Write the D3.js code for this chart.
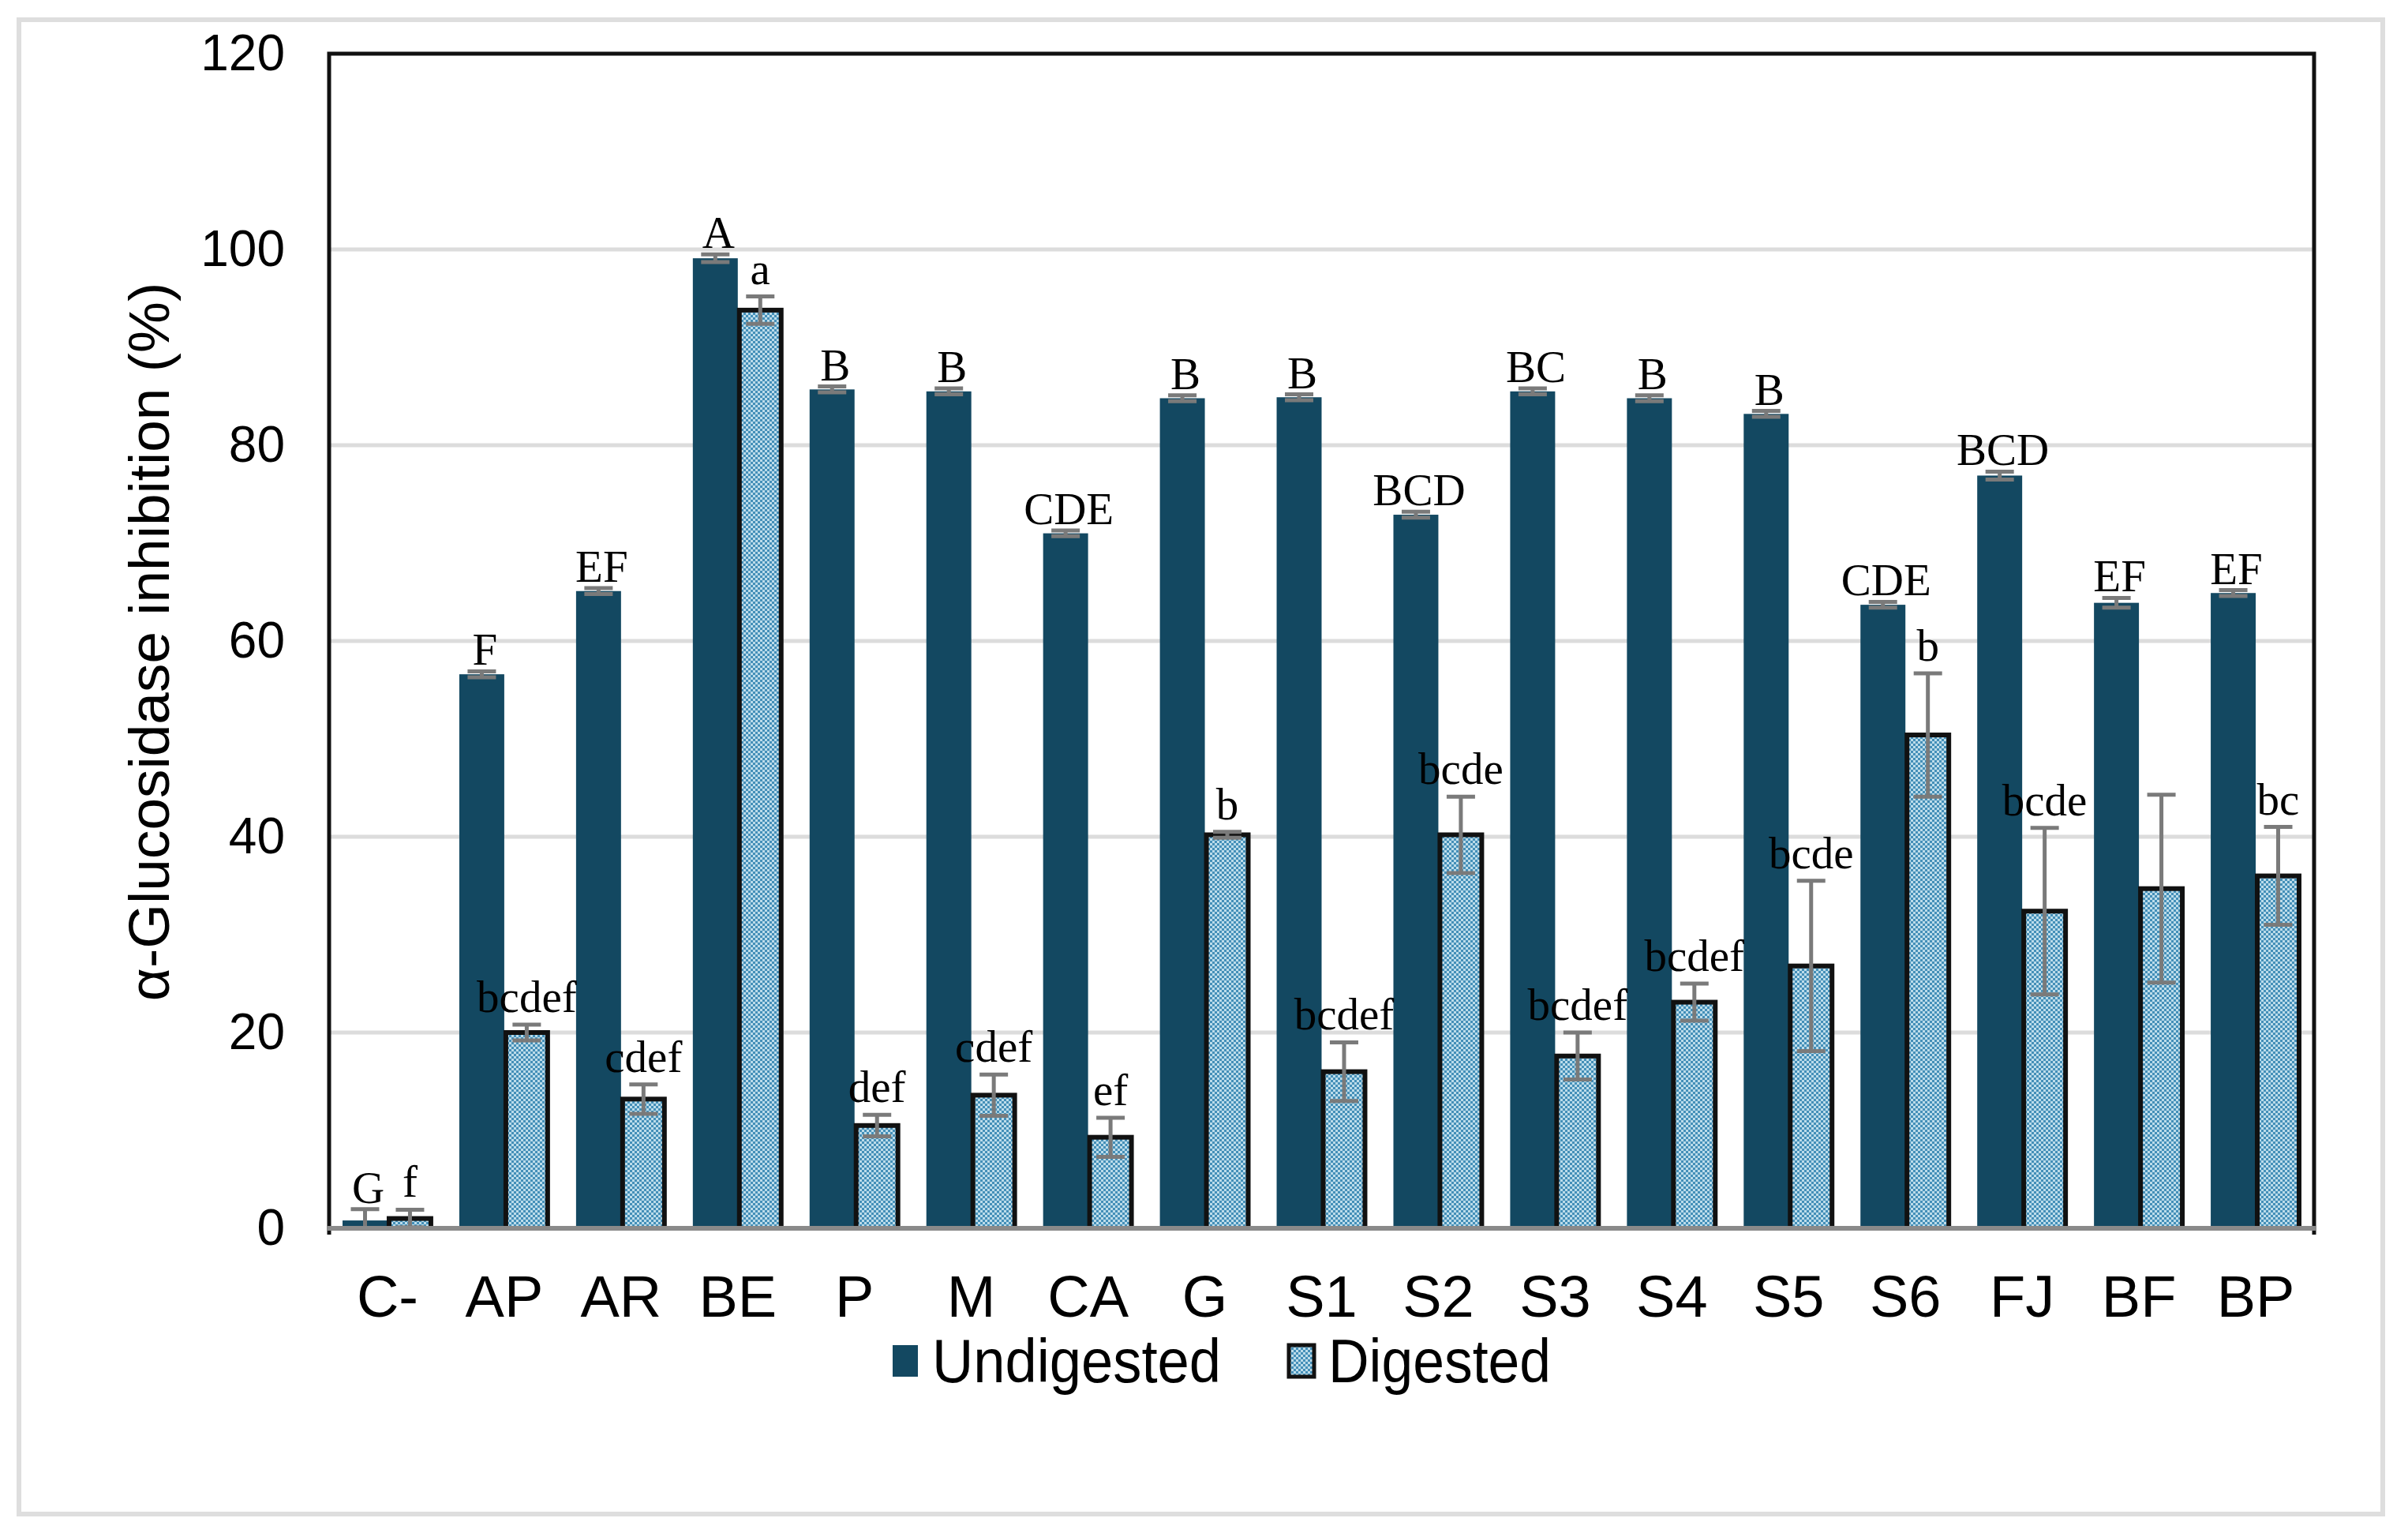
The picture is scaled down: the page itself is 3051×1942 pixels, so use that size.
<!DOCTYPE html>
<html>
<head>
<meta charset="utf-8">
<script src="https://cdn.jsdelivr.net/npm/d3@7"></script>
<style>
  body { margin: 0; background: #fff; }
  svg { display: block; }
</style>
</head>
<body>
<div id="chart"></div>
<script>
// sample codes along the x axis
const categories = ["C-", "AP", "AR", "BE", "P", "M", "CA", "G", "S1", "S2", "S3", "S4", "S5", "S6", "FJ", "BF", "BP"];

// alpha-glucosidase inhibition (%)
const undigested    = [0.8, 56.6, 65.1, 99.1, 85.7, 85.5, 71.0, 84.8, 84.9, 72.9, 85.5, 84.8, 83.2, 63.7, 76.9, 63.9, 64.9];
const undigestedErr = [1.15, 0.3, 0.3, 0.4, 0.3, 0.3, 0.3, 0.3, 0.3, 0.3, 0.3, 0.3, 0.3, 0.3, 0.4, 0.5, 0.3];
const digested      = [1.0, 20.0, 13.2, 93.8, 10.5, 13.6, 9.3, 40.2, 16.0, 40.2, 17.6, 23.1, 26.8, 50.4, 32.4, 34.7, 36.0];
const digestedErr   = [0.9, 0.8, 1.5, 1.4, 1.1, 2.1, 2.0, 0.3, 3.0, 3.9, 2.4, 1.9, 8.7, 6.3, 8.5, 9.6, 5.0];

// significance letters
const undigestedLetters = ["G", "F", "EF", "A", "B", "B", "CDE", "B", "B", "BCD", "BC", "B", "B", "CDE", "BCD", "EF", "EF"];
const digestedLetters   = ["f", "bcdef", "cdef", "a", "def", "cdef", "ef", "b", "bcdef", "bcde", "bcdef", "bcdef", "bcde", "b", "bcde", "", "bc"];

const yTicks = [0, 20, 40, 60, 80, 100, 120];
const seriesNames = ["Undigested", "Digested"];

function chart() {
  const width = 3051;
  const height = 1942;
  const left = 417, right = 2932, top = 68, bottom = 1556;
  const darkBlue = "#134861";
  const errGrey = "#7a7a7a";

  const svg = d3.select("#chart")
    .append("svg")
    .attr("width", width)
    .attr("height", height);

  const defs = svg.append("defs");
  const pat = defs.append("pattern")
    .attr("id", "dots")
    .attr("width", 6)
    .attr("height", 6)
    .attr("patternUnits", "userSpaceOnUse");
  pat.append("rect").attr("width", 6).attr("height", 6).attr("fill", "#bcdcea");
  pat.append("rect").attr("width", 3).attr("height", 3).attr("fill", "#448fb8");
  pat.append("rect").attr("x", 3).attr("y", 3).attr("width", 3).attr("height", 3).attr("fill", "#448fb8");

  // outer chart border
  svg.append("rect")
    .attr("x", 24).attr("y", 25)
    .attr("width", 2995).attr("height", 1893)
    .attr("fill", "none")
    .attr("stroke", "#dedede")
    .attr("stroke-width", 6);

  const xScale = d3.scaleBand()
    .domain(categories)
    .range([left, right]);

  const yScale = d3.scaleLinear()
    .domain([0, 120])
    .range([bottom, top]);

  const barW = xScale.bandwidth() * 0.385;
  const cx = c => xScale(c) + xScale.bandwidth() / 2;

  // gridlines
  svg.selectAll(".grid")
    .data(yTicks.filter(t => t > 0 && t < 120))
    .enter().append("line")
    .attr("class", "grid")
    .attr("x1", left).attr("x2", right)
    .attr("y1", d => yScale(d)).attr("y2", d => yScale(d))
    .attr("stroke", "#dcdcdc")
    .attr("stroke-width", 5);

  // undigested bars
  svg.selectAll(".und")
    .data(categories)
    .enter().append("rect")
    .attr("class", "und")
    .attr("x", d => cx(d) - barW)
    .attr("width", barW)
    .attr("y", (d, i) => yScale(undigested[i]))
    .attr("height", (d, i) => yScale(0) - yScale(undigested[i]))
    .attr("fill", darkBlue);

  // digested bars
  svg.selectAll(".dig")
    .data(categories)
    .enter().append("rect")
    .attr("class", "dig")
    .attr("x", d => cx(d) + 2)
    .attr("width", barW - 4)
    .attr("y", (d, i) => yScale(digested[i]))
    .attr("height", (d, i) => yScale(0) - yScale(digested[i]))
    .attr("fill", "url(#dots)")
    .attr("stroke", "#111")
    .attr("stroke-width", 6);

  // error bars
  function errorBars(cls, vals, errs, offset) {
    const g = svg.selectAll("." + cls)
      .data(categories)
      .enter().append("g")
      .attr("class", cls)
      .attr("stroke", errGrey)
      .attr("stroke-width", 5);
    const ex = d => cx(d) + offset;
    g.append("line")
      .attr("x1", ex).attr("x2", ex)
      .attr("y1", (d, i) => yScale(vals[i] + errs[i]))
      .attr("y2", (d, i) => yScale(Math.max(0, vals[i] - errs[i])));
    g.append("line")
      .attr("x1", d => ex(d) - 18).attr("x2", d => ex(d) + 18)
      .attr("y1", (d, i) => yScale(vals[i] + errs[i]))
      .attr("y2", (d, i) => yScale(vals[i] + errs[i]));
    g.append("line")
      .attr("x1", d => ex(d) - 18).attr("x2", d => ex(d) + 18)
      .attr("y1", (d, i) => yScale(Math.max(0, vals[i] - errs[i])))
      .attr("y2", (d, i) => yScale(Math.max(0, vals[i] - errs[i])));
  }
  errorBars("uerr", undigested, undigestedErr, -barW / 2);
  errorBars("derr", digested, digestedErr, barW / 2);

  // frame: black top, left, right; grey category axis
  svg.append("path")
    .attr("d", `M${left},${bottom + 8}V${top}H${right}V${bottom + 8}`)
    .attr("fill", "none")
    .attr("stroke", "#111")
    .attr("stroke-width", 5);
  svg.append("line")
    .attr("x1", left - 2).attr("x2", right + 2)
    .attr("y1", bottom).attr("y2", bottom)
    .attr("stroke", "#8a8a8a")
    .attr("stroke-width", 6);

  // letters over the bars
  svg.selectAll(".ulab")
    .data(categories)
    .enter().append("text")
    .attr("class", "ulab")
    .attr("x", d => cx(d) - barW / 2 + 4)
    .attr("y", (d, i) => yScale(undigested[i] + undigestedErr[i]) - 8)
    .attr("text-anchor", "middle")
    .style("font-family", "'Liberation Serif', 'Times New Roman', serif")
    .style("font-size", "57px")
    .text((d, i) => undigestedLetters[i]);

  svg.selectAll(".dlab")
    .data(categories)
    .enter().append("text")
    .attr("class", "dlab")
    .attr("x", d => cx(d) + barW / 2)
    .attr("y", (d, i) => yScale(digested[i] + digestedErr[i]) - 16)
    .attr("text-anchor", "middle")
    .style("font-family", "'Liberation Serif', 'Times New Roman', serif")
    .style("font-size", "57px")
    .text((d, i) => digestedLetters[i]);

  // y axis
  const yAxis = d3.axisLeft(yScale)
    .tickValues(yTicks)
    .tickSize(0)
    .tickPadding(56);
  const yg = svg.append("g")
    .attr("transform", `translate(${left}, 0)`)
    .call(yAxis);
  yg.select(".domain").remove();
  yg.selectAll("text")
    .style("font-family", "'Liberation Sans', Arial, sans-serif")
    .style("font-size", "64px")
    .attr("fill", "#000");

  // x axis
  const xAxis = d3.axisBottom(xScale).tickSize(0);
  const xg = svg.append("g")
    .attr("transform", `translate(0, ${bottom})`)
    .call(xAxis);
  xg.select(".domain").remove();
  xg.selectAll("text")
    .attr("y", 112)
    .attr("dy", 0)
    .style("font-family", "'Liberation Sans', Arial, sans-serif")
    .style("font-size", "74px")
    .attr("fill", "#000");

  // y title
  svg.append("text")
    .attr("transform", "translate(214, 813) rotate(-90)")
    .attr("text-anchor", "middle")
    .style("font-family", "'Liberation Sans', Arial, sans-serif")
    .style("font-size", "73px")
    .text("α-Glucosidase inhibition (%)");

  // legend (text is drawn condensed, as in the original)
  const legendX = [1131, 1633];
  const legendTextW = [366, 282];
  const lg = svg.selectAll(".legend")
    .data(seriesNames)
    .enter().append("g")
    .attr("class", "legend")
    .attr("transform", (d, i) => `translate(${legendX[i]}, 1704)`);
  lg.append("rect")
    .attr("width", 32).attr("height", 40)
    .attr("fill", (d, i) => i === 0 ? darkBlue : "url(#dots)")
    .attr("stroke", (d, i) => i === 0 ? "none" : "#111")
    .attr("stroke-width", 5);
  lg.append("text")
    .attr("x", 50)
    .attr("y", 47)
    .attr("textLength", (d, i) => legendTextW[i])
    .attr("lengthAdjust", "spacingAndGlyphs")
    .style("font-family", "'Liberation Sans', Arial, sans-serif")
    .style("font-size", "78px")
    .text(d => d);
}

chart();
</script>
</body>
</html>
